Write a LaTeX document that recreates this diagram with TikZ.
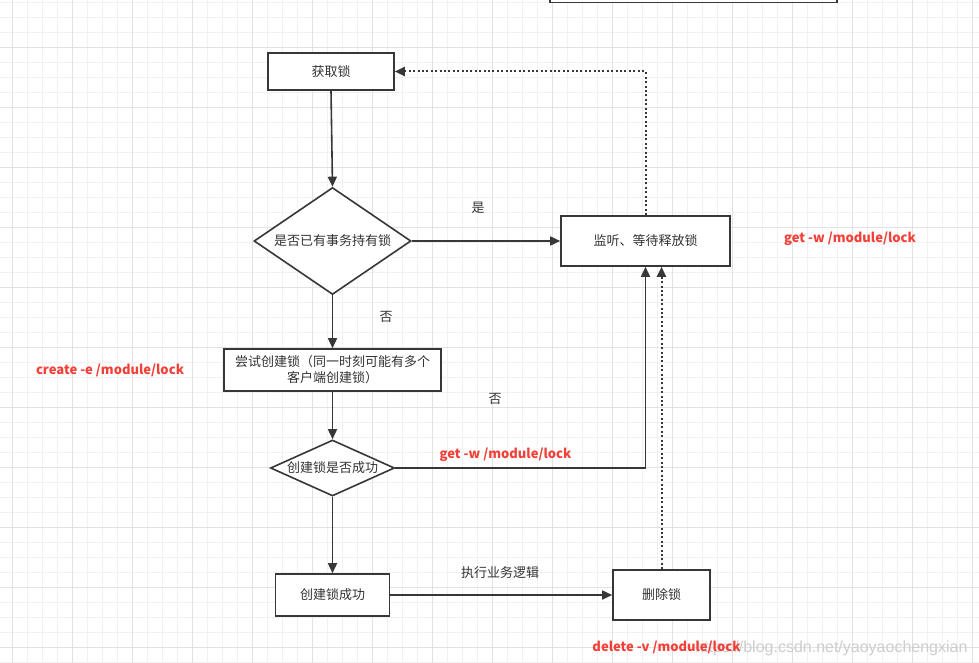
\documentclass[tikz,border=0pt]{standalone}
\usepackage{fontspec}
\setmainfont{Noto Sans CJK SC}
\newfontfamily\wmfont{Liberation Sans}
\usetikzlibrary{arrows.meta,shapes.geometric}
\definecolor{lc}{RGB}{55,55,55}
\definecolor{tc}{RGB}{51,51,51}
\definecolor{rc}{RGB}{242,64,56}
\definecolor{gminor}{RGB}{241,241,241}
\definecolor{gmajor}{RGB}{226,226,226}
\definecolor{wm}{RGB}{205,205,205}
\tikzset{
  txt/.style={font=\fontsize{13}{16}\selectfont, text=tc},
  box/.style={draw=lc, line width=1.6pt, fill=white, rectangle, inner sep=0pt, txt, align=center},
  dia/.style={draw=lc, line width=1.6pt, fill=white, diamond, inner sep=0pt},
  red/.style={font=\fontsize{13}{16}\selectfont\bfseries, text=rc},
  conn/.style={draw=lc, line width=1.6pt, -{Triangle[length=10pt,width=9pt]}},
  dotconn/.style={draw=lc, line width=2pt, dash pattern=on 2pt off 2.4pt, -{Triangle[length=10pt,width=9pt]}}
}
\begin{document}
\begin{tikzpicture}[x=1pt,y=-1pt]
\useasboundingbox (0,0) rectangle (979,663);
\clip (0,0) rectangle (979,663);
\fill[white] (0,0) rectangle (979,663);
% grid
\foreach \i in {0,...,66} {
  \draw[gminor, line width=1pt] ({-2.7+15*\i},0) -- ({-2.7+15*\i},663);
}
\foreach \i in {0,...,45} {
  \draw[gminor, line width=1pt] (0,{2.3+15*\i}) -- (979,{2.3+15*\i});
}
\foreach \i in {0,...,16} {
  \draw[gmajor, line width=1pt] ({12.3+60*\i},0) -- ({12.3+60*\i},663);
}
\foreach \i in {0,...,11} {
  \draw[gmajor, line width=1pt] (0,{-12.7+60*\i}) -- (979,{-12.7+60*\i});
}
% partial box at top
\node[box, minimum width=287pt, minimum height=30pt] (topbox) at (693.5,-12.5) {};
% nodes
\node[box, minimum width=126pt, minimum height=37pt] (get) at (331,71.5) {获取锁};
\node[dia, minimum width=157pt, minimum height=107pt, label={[txt]center:是否已有事务持有锁}] (d1) at (332.5,241) {};
\node[box, minimum width=169pt, minimum height=50pt] (lw) at (645.5,241) {监听、等待释放锁};
\node[box, minimum width=217pt, minimum height=42pt] (try) at (332.5,370) {尝试创建锁（同一时刻可能有多个\\客户端创建锁）};
\node[dia, minimum width=124pt, minimum height=56pt, label={[txt]center:创建锁是否成功}] (d2) at (332.5,468) {};
\node[box, minimum width=114pt, minimum height=42pt] (suc) at (332.5,595) {创建锁成功};
\node[box, minimum width=97pt, minimum height=50pt] (del) at (661.5,595) {删除锁};
% labels
\node[txt] (yes) at (478,208) {是};
\node[txt] (no1) at (386,317) {否};
\node[txt] (no2) at (495,399) {否};
\node[txt] (exec) at (500,573) {执行业务逻辑};
\node[wm, font=\wmfont\fontsize{16}{18}\selectfont, anchor=east] (wmark) at (971,648) {https://blog.csdn.net/yaoyaochengxian};
\node[red] (lcreate) at (110,370.5) {create -e /module/lock};
\node[red] (lget1) at (850,239) {get -w /module/lock};
\node[red] (lget2) at (505.5,455) {get -w /module/lock};
\node[red] (ldel) at (666.5,647) {delete -v /module/lock};
% connectors
\draw[conn] (get.south) -- (d1.north);
\draw[conn] (d1.east) -- (lw.west);
\draw[conn] (d1.south) -- (try.north);
\draw[conn] (try.south) -- (d2.north);
\draw[conn] (d2.south) -- (suc.north);
\draw[conn] (d2.east) -| (lw.south);
\draw[conn] (suc.east) -- (del.west);
\draw[dotconn] (del.north) -- (del.north |- lw.south);
\draw[dotconn] (lw.north) |- (get.east);
\end{tikzpicture}
\end{document}
